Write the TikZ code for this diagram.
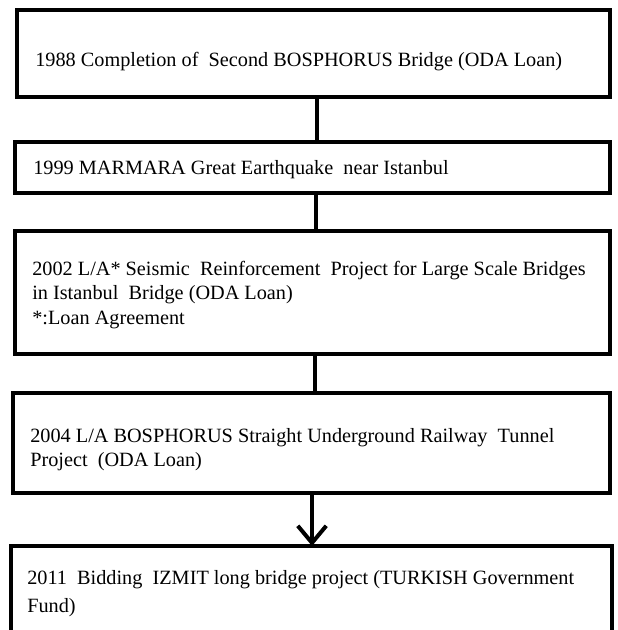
\documentclass[tikz,border=0pt]{standalone}
\usepackage{fontspec}
\setmainfont{Liberation Serif}
\usetikzlibrary{arrows.meta}
\begin{document}
\begin{tikzpicture}[x=0.75pt,y=-0.75pt,
  box/.style={draw=black,line width=3pt,line join=miter},
  link/.style={draw=black,line width=3pt},
  txt/.style={anchor=base west,inner sep=0pt,font=\fontsize{15.2}{17}\selectfont}]
\useasboundingbox (0,0) rectangle (617,630);
% timeline boxes
\draw[box] (17,10) rectangle (610,97);
\coordinate (b1s) at (317,97);
\draw[box] (15,142) rectangle (610,193);
\coordinate (b2n) at (317,142);
\coordinate (b2s) at (316,193);
\draw[box] (15,231) rectangle (610,354);
\coordinate (b3n) at (316,231);
\coordinate (b3s) at (315,354);
\draw[box] (13,393) rectangle (610,493);
\coordinate (b4n) at (315,393);
\coordinate (b4s) at (312,493);
\draw[box] (11,640) -- (11,546) -- (612,546) -- (612,640);
\coordinate (b5n) at (312,546);
% texts
\node[txt] (t1) at (35,67) {1988 Completion of~ Second BOSPHORUS Bridge (ODA Loan)};
\node[txt] (t2) at (33,175) {1999 MARMARA Great Earthquake~ near Istanbul};
\node[txt] (t3a) at (32,276) {2002 L/A* Seismic~ Reinforcement~ Project for Large Scale Bridges};
\node[txt] (t3b) at (32,300) {in Istanbul~ Bridge (ODA Loan)};
\node[txt] (t3c) at (32,324) {*:Loan Agreement};
\node[txt] (t4a) at (30,442) {2004 L/A BOSPHORUS Straight Underground Railway~ Tunnel};
\node[txt] (t4b) at (30,466) {Project~ (ODA Loan)};
\node[txt] (t5a) at (27,584) {2011~ Bidding~ IZMIT long bridge project (TURKISH Government};
\node[txt] (t5b) at (27,612) {Fund)};
% connectors
\draw[link] (b1s) -- (b2n);
\draw[link] (b2s) -- (b3n);
\draw[link] (b3s) -- (b4n);
\draw[link,-{Straight Barb[length=4.5mm,width=7.5mm,line width=3pt]}] (b4s) -- (b5n);
\end{tikzpicture}
\end{document}
